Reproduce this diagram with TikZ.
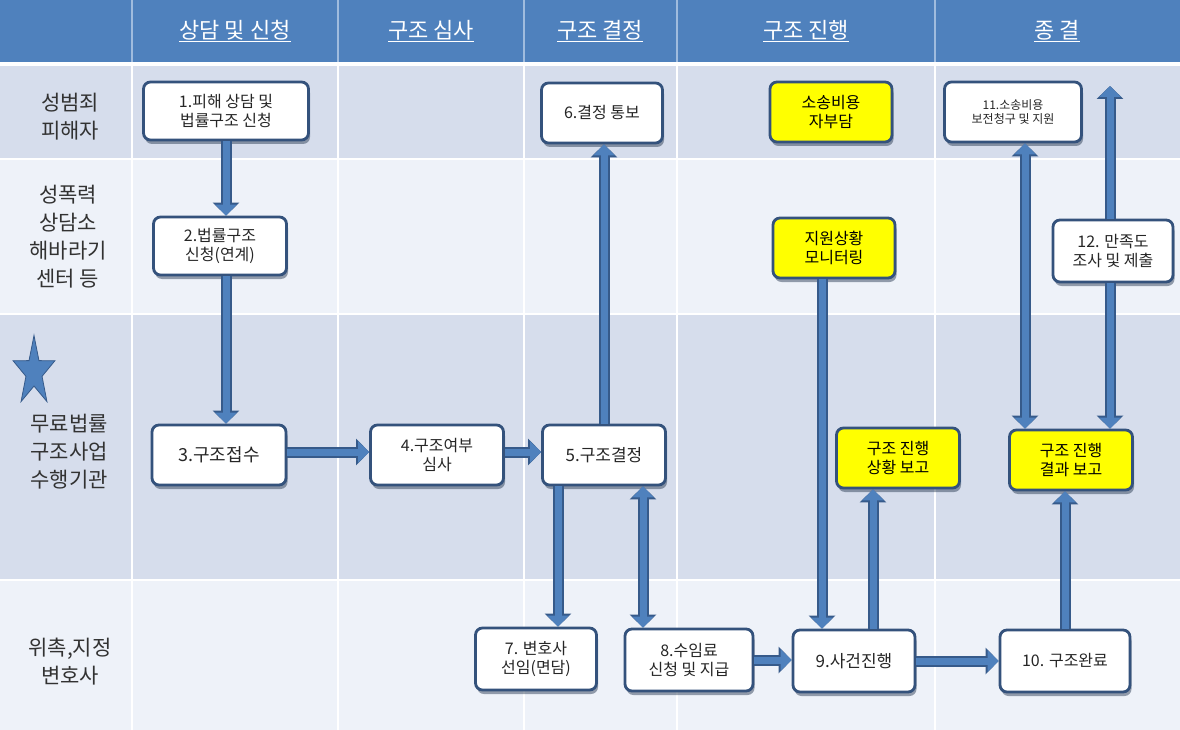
\documentclass[tikz,border=0pt]{standalone}
\usepackage{fontspec}
\setmainfont{Noto Sans CJK KR}
\usetikzlibrary{arrows.meta,shadows,calc,shapes.geometric}
\definecolor{hdr}{RGB}{79,129,189}
\definecolor{hdrline}{RGB}{160,188,222}
\definecolor{rowA}{RGB}{214,221,236}
\definecolor{rowB}{RGB}{238,242,249}
\definecolor{navy}{RGB}{52,82,124}
\definecolor{arr}{RGB}{79,129,189}
\definecolor{arrdk}{RGB}{54,90,138}
\definecolor{yel}{RGB}{255,255,0}
\definecolor{lbl}{RGB}{50,50,50}
\tikzset{
  box/.style={draw=navy, line width=2.8pt, rounded corners=7pt, fill=white, align=center,
    font=\fontsize{16}{19}\selectfont, inner sep=0pt, text=black!85,
    drop shadow={shadow xshift=1.5pt, shadow yshift=-4pt, opacity=0.45, fill=navy!60!black}},
  ybox/.style={box, fill=yel, text=black},
  rowlabel/.style={align=center, text=lbl, font=\fontsize{21}{28}\selectfont},
  hdrtext/.style={text=white, font=\fontsize{22}{26}\selectfont},
  fat/.style={draw=arr, line width=7pt, -{Triangle[width=21pt,length=11pt]},
    preaction={draw=arrdk, line width=11pt, -{Triangle[width=26pt,length=13pt]}}},
  fatboth/.style={draw=arr, line width=7pt, {Triangle[width=21pt,length=11pt]}-{Triangle[width=21pt,length=11pt]},
    preaction={draw=arrdk, line width=11pt, {Triangle[width=26pt,length=13pt]}-{Triangle[width=26pt,length=13pt]}}},
}
\begin{document}
\begin{tikzpicture}[x=1pt,y=-1pt]
\useasboundingbox (0,0) rectangle (1180,730);
% backgrounds
\fill[white] (0,0) rectangle (1180,730);
\fill[hdr] (0,0) rectangle (1180,62);
\fill[rowA] (0,66) rectangle (1180,158);
\fill[rowB] (0,160) rectangle (1180,313);
\fill[rowA] (0,315) rectangle (1180,579);
\fill[rowB] (0,581) rectangle (1180,730);
\foreach \cx in {132,338,524,677,935}{
  \draw[hdrline, line width=1.2pt] (\cx,0) -- (\cx,62);
  \draw[white, line width=2pt] (\cx,62) -- (\cx,730);
}
% header texts
\node[hdrtext] (h1) at (235,31) {\underline{상담 및 신청}};
\node[hdrtext] (h2) at (431,31) {\underline{구조 심사}};
\node[hdrtext] (h3) at (600,31) {\underline{구조 결정}};
\node[hdrtext] (h4) at (806,31) {\underline{구조 진행}};
\node[hdrtext] (h5) at (1057,31) {\underline{종 결}};
% row labels
\node[rowlabel] (r1) at (70,117) {성범죄\\피해자};
\node[rowlabel] (r2) at (68,237) {성폭력\\상담소\\해바라기\\센터 등};
\node[rowlabel] (r3) at (69,452) {무료법률\\구조사업\\수행기관};
\node[rowlabel] (r4) at (70,662) {위촉,지정\\변호사};
\begin{scope}[shift={(34,372)}, yscale=1.66]
\node[star, star points=5, star point ratio=2.6, fill=arr, draw=arrdk, line width=0.8pt,
  minimum size=44pt, inner sep=0pt, transform shape] (star) at (0,0) {};
\end{scope}
% boxes
\node[box, minimum width=165pt, minimum height=58pt] (n1) at (226,111) {1.피해 상담 및\\법률구조 신청};
\node[box, minimum width=133pt, minimum height=58pt] (n2) at (220,246) {2.법률구조\\신청(연계)};
\node[box, minimum width=134pt, minimum height=60pt, font=\fontsize{18}{21}\selectfont] (n3) at (219,455) {3.구조접수};
\node[box, minimum width=133pt, minimum height=60pt] (n4) at (437,455) {4.구조여부\\심사};
\node[box, minimum width=123pt, minimum height=60pt, font=\fontsize{17}{20}\selectfont] (n5) at (604,455) {5.구조결정};
\node[box, minimum width=121pt, minimum height=60pt] (n6) at (602,113) {6.결정 통보};
\node[box, minimum width=121pt, minimum height=62pt] (n7) at (536,659) {7. 변호사\\선임(면담)};
\node[box, minimum width=128pt, minimum height=62pt] (n8) at (689,660) {8.수임료\\신청 및 지급};
\node[box, minimum width=122pt, minimum height=62pt, font=\fontsize{17}{20}\selectfont] (n9) at (854,661) {9.사건진행};
\node[box, minimum width=130pt, minimum height=62pt] (n10) at (1065,661) {10. 구조완료};
\node[ybox, minimum width=122pt, minimum height=60pt] (y1) at (831,112) {소송비용\\자부담};
\node[box, minimum width=137pt, minimum height=60pt, font=\fontsize{12}{14}\selectfont] (n11) at (1013,112) {11.소송비용\\보전청구 및 지원};
\node[ybox, minimum width=122pt, minimum height=60pt] (y2) at (834,248) {지원상황\\모니터링};
\node[ybox, minimum width=123pt, minimum height=60pt] (y3) at (898,458) {구조 진행\\상황 보고};
\node[ybox, minimum width=123pt, minimum height=60pt] (y4) at (1071,460) {구조 진행\\결과 보고};
\node[box, minimum width=120pt, minimum height=62pt] (n12) at (1113,251) {12. 만족도\\조사 및 제출};
\coordinate (top12) at (1110,86);
% arrows
\draw[fat] (n1.south) -- (n1.south |- n2.north);
\draw[fat] (n2.south -| n1.south) -- (n3.north -| n1.south);
\draw[fat] ([yshift=3pt]n3.east) -- ([yshift=3pt]n4.west);
\draw[fat] ([yshift=3pt]n4.east) -- ([yshift=3pt]n5.west);
\draw[fat] (n5.north) -- (n5.north |- n6.south);
\draw[fat] ([xshift=-46pt]n5.south) -- ([xshift=-46pt]n5.south |- n7.north);
\draw[fatboth] ([xshift=39pt]n5.south) -- ([xshift=39pt]n5.south |- n8.north);
\draw[fat] (n8.east) -- (n8.east -| n9.west);
\draw[fat] ([xshift=-12pt]y2.south) -- ([xshift=-12pt]y2.south |- n9.north);
\draw[fat] ([xshift=19pt]n9.north) -- ([xshift=19pt]n9.north |- y3.south);
\draw[fat] (n9.east) -- (n9.east -| n10.west);
\draw[fat] (n10.north) -- (n10.north |- y4.south);
\draw[fatboth] ([xshift=12pt]n11.south) -- ([xshift=12pt]n11.south |- y4.north);
\draw[fat] (n12.north -| top12) -- (top12);
\draw[fat] (n12.south -| top12) -- (top12 |- y4.north);
\end{tikzpicture}
\end{document}
